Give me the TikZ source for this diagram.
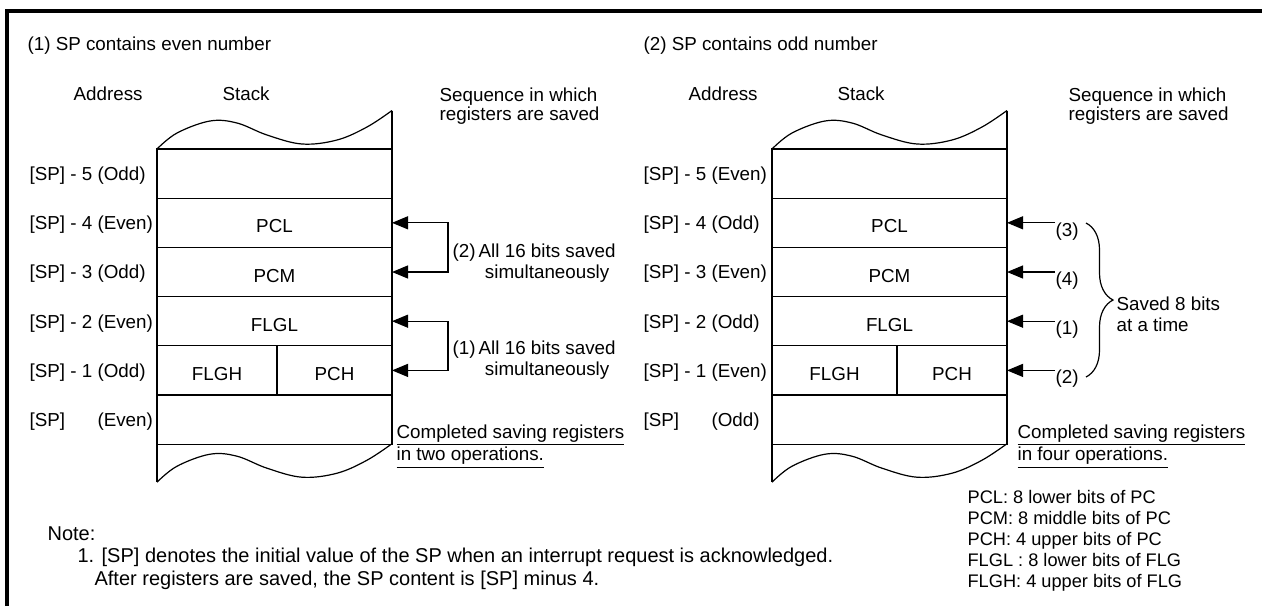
\documentclass[tikz,border=0pt]{standalone}
\usepackage{fontspec}
\setmainfont{Liberation Sans}
\usetikzlibrary{arrows.meta,positioning,decorations.pathreplacing}
\newcommand{\figfont}{\fontsize{9.4pt}{10.6pt}\selectfont}
\newcommand{\seqfont}{\fontsize{9.4pt}{9.5pt}\selectfont}
\newcommand{\keyfont}{\fontsize{9.1pt}{10.5pt}\selectfont}
\newcommand{\notefont}{\fontsize{10pt}{11.25pt}\selectfont}

\begin{document}
\begin{tikzpicture}[
  x=0.5pt, y=-0.5pt,
  line width=0.6pt,
  font=\figfont,
  txt/.style={inner sep=0pt, anchor=base west},
  cell/.style={draw, rectangle, minimum width=117.5pt, minimum height=24.6pt,
               inner sep=0pt, outer sep=0pt, text height=10pt, text depth=0pt},
  savearr/.style={-{Triangle[length=8pt,width=6.5pt]}},
  pairarr/.style={{Triangle[length=8pt,width=6.5pt]}-{Triangle[length=8pt,width=6.5pt]}},
  grpbrace/.style={decorate, decoration={brace, amplitude=13.5pt}},
  wave/.pic={\draw plot[smooth, tension=0.6] coordinates
    {(0,0) (20,-16) (53,-28) (80,-26) (110,-14) (145,-5) (180,-9) (210,-22) (235,-38.5)};}
]
  \useasboundingbox (0,0) rectangle (1262,606);
  \draw[line width=1.75pt] (7,606) -- (7,11) -- (1262,11);

  %% (1) SP contains even number
  \node[txt] (ev-title) at (27,50) {(1) SP contains even number};
  \node[txt] (ev-addr) at (73,100) {Address};
  \node[txt] (ev-stack) at (222,100) {Stack};
  \node[txt, font=\seqfont] (ev-seq) at (439,101)
    {\begin{tabular}[t]{@{}l@{}}Sequence in which\\registers are saved\end{tabular}};

  \node[cell, anchor=north west] (ev-r5) at (157,149) {};
  \node[cell, below=0pt of ev-r5] (ev-pcl) {PCL};
  \node[cell, below=0pt of ev-pcl] (ev-pcm) {PCM};
  \node[cell, below=0pt of ev-pcm] (ev-flgl) {FLGL};
  \node[cell, minimum width=60pt, anchor=north west] (ev-flgh) at (ev-flgl.south west) {FLGH};
  \node[cell, minimum width=57.5pt, right=0pt of ev-flgh] (ev-pch) {PCH};
  \node[cell, anchor=north west] (ev-sp) at (ev-flgh.south west) {};

  \pic at (ev-r5.north west) {wave};
  \draw (ev-r5.north east) -- ++(0,-38.5);
  \draw (ev-sp.south west) -- ++(0,38) coordinate (ev-foot);
  \pic at (ev-foot) {wave};

  \node[txt] (ev-a5) at (29,180.5) {[SP] - 5 (Odd)};
  \node[txt] (ev-a4) at (29,229.7) {[SP] - 4 (Even)};
  \node[txt] (ev-a3) at (29,278.9) {[SP] - 3 (Odd)};
  \node[txt] (ev-a2) at (29,328.1) {[SP] - 2 (Even)};
  \node[txt] (ev-a1) at (29,377.3) {[SP] - 1 (Odd)};
  \node[txt] (ev-a0) at (29,426.5) {[SP]\phantom{ - 0} (Even)};

  \draw[pairarr] (ev-pcl.east) -- ++(56,0) |- (ev-pcm.east);
  \draw[pairarr] (ev-flgl.east) -- ++(56,0) |- (ev-pch.east);
  \node[txt] (ev-op2) at (452,257)
    {(2)\,\begin{tabular}[t]{@{}c@{}}All 16 bits saved\\simultaneously\end{tabular}};
  \node[txt] (ev-op1) at (452,354)
    {(1)\,\begin{tabular}[t]{@{}c@{}}All 16 bits saved\\simultaneously\end{tabular}};

  \node[txt] (ev-done) at (396,438)
    {\begin{tabular}[t]{@{}l@{}}\underline{Completed saving registers}\\\underline{in two operations.}\end{tabular}};

  %% (2) SP contains odd number
  \node[txt] (od-title) at (643,50) {(2) SP contains odd number};
  \node[txt] (od-addr) at (688,100) {Address};
  \node[txt] (od-stack) at (837,100) {Stack};
  \node[txt, font=\seqfont] (od-seq) at (1068,101)
    {\begin{tabular}[t]{@{}l@{}}Sequence in which\\registers are saved\end{tabular}};

  \node[cell, anchor=north west] (od-r5) at (772,149) {};
  \node[cell, below=0pt of od-r5] (od-pcl) {PCL};
  \node[cell, below=0pt of od-pcl] (od-pcm) {PCM};
  \node[cell, below=0pt of od-pcm] (od-flgl) {FLGL};
  \node[cell, minimum width=62.5pt, anchor=north west] (od-flgh) at (od-flgl.south west) {FLGH};
  \node[cell, minimum width=55pt, right=0pt of od-flgh] (od-pch) {PCH};
  \node[cell, anchor=north west] (od-sp) at (od-flgh.south west) {};

  \pic at (od-r5.north west) {wave};
  \draw (od-r5.north east) -- ++(0,-38.5);
  \draw (od-sp.south west) -- ++(0,38) coordinate (od-foot);
  \pic at (od-foot) {wave};

  \node[txt] (od-a5) at (643,180.5) {[SP] - 5 (Even)};
  \node[txt] (od-a4) at (643,229.7) {[SP] - 4 (Odd)};
  \node[txt] (od-a3) at (643,278.9) {[SP] - 3 (Even)};
  \node[txt] (od-a2) at (643,328.1) {[SP] - 2 (Odd)};
  \node[txt] (od-a1) at (643,377.3) {[SP] - 1 (Even)};
  \node[txt] (od-a0) at (643,426.5) {[SP]\phantom{ - 0} (Odd)};

  \node[txt] (od-n3) at (1055,236) {(3)};
  \node[txt] (od-n4) at (1055,285) {(4)};
  \node[txt] (od-n1) at (1055,334) {(1)};
  \node[txt] (od-n2) at (1055,383) {(2)};
  \draw[savearr] (od-n3.west |- od-pcl.east) -- (od-pcl.east);
  \draw[savearr] (od-n4.west |- od-pcm.east) -- (od-pcm.east);
  \draw[savearr] (od-n1.west |- od-flgl.east) -- (od-flgl.east);
  \draw[savearr] (od-n2.west |- od-pch.east) -- (od-pch.east);

  \coordinate (od-btop) at (1086,223);
  \coordinate (od-bbot) at (1086,377);
  \draw[grpbrace] (od-btop) -- (od-bbot);
  \node[txt] (od-grp) at (1116,310)
    {\begin{tabular}[t]{@{}l@{}}Saved 8 bits\\at a time\end{tabular}};

  \node[txt] (od-done) at (1017,438)
    {\begin{tabular}[t]{@{}l@{}}\underline{Completed saving registers}\\\underline{in four operations.}\end{tabular}};

  %% abbreviations and note
  \node[txt, font=\keyfont] (key) at (967,503)
    {\begin{tabular}[t]{@{}l@{}}PCL: 8 lower bits of PC\\PCM: 8 middle bits of PC\\PCH: 4 upper bits of PC\\FLGL : 8 lower bits of FLG\\FLGH: 4 upper bits of FLG\end{tabular}};
  \node[txt, font=\notefont] (note) at (47,540)
    {\begin{tabular}[t]{@{}l@{}}Note:\\\hspace{15pt}1. [SP] denotes the initial value of the SP when an interrupt request is acknowledged.\\\hspace{23.5pt}After registers are saved, the SP content is [SP] minus 4.\end{tabular}};
\end{tikzpicture}
\end{document}
